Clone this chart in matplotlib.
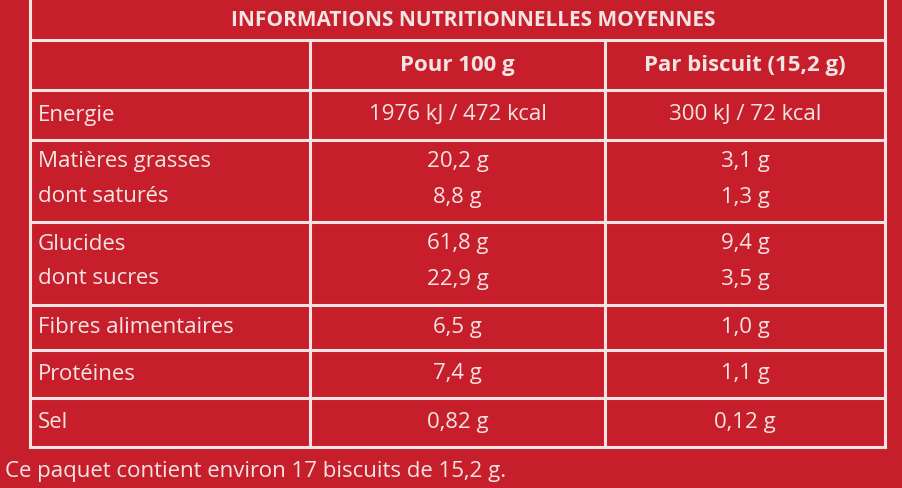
import matplotlib
matplotlib.use("Agg")
import matplotlib.pyplot as plt

title = "INFORMATIONS NUTRITIONNELLES MOYENNES"
col_headers = ["Pour 100 g", "Par biscuit (15,2 g)"]
row_labels = [["Energie"], ["Matières grasses", "dont saturés"], ["Glucides", "dont sucres"],
              ["Fibres alimentaires"], ["Protéines"], ["Sel"]]
per100 = [["1976 kJ / 472 kcal"], ["20,2 g", "8,8 g"], ["61,8 g", "22,9 g"], ["6,5 g"], ["7,4 g"], ["0,82 g"]]
perbiscuit = [["300 kJ / 72 kcal"], ["3,1 g", "1,3 g"], ["9,4 g", "3,5 g"], ["1,0 g"], ["1,1 g"], ["0,12 g"]]
footer = "Ce paquet contient environ 17 biscuits de 15,2 g."

bg = "#c61f2b"
fg = "#f3e4e4"
W, H = 902, 488
fig = plt.figure(figsize=(W/100, H/100), dpi=100, facecolor=bg)
ax = fig.add_axes([0, 0, 1, 1])
ax.set_xlim(0, W); ax.set_ylim(H, 0); ax.axis("off"); ax.set_facecolor(bg)

cols = [30, 310, 605, 885]
rows = [0, 40, 90, 140, 222, 305, 350, 398, 447]
lw = 2.2
for y in rows[1:]:
    ax.plot([cols[0], cols[-1]], [y, y], color=fg, lw=lw)
for x in [cols[0], cols[-1]]:
    ax.plot([x, x], [rows[0], rows[-1]], color=fg, lw=lw)
for x in cols[1:3]:
    ax.plot([x, x], [rows[1], rows[-1]], color=fg, lw=lw)

fs = 16
ax.text(473, 20, title, color=fg, fontsize=15, fontweight="bold", ha="center", va="center", family="Open Sans")
for i, h in enumerate(col_headers):
    ax.text((cols[i+1]+cols[i+2])/2, 66, h, color=fg, fontsize=fs, fontweight="bold",
            ha="center", va="center", family="Open Sans")
for r in range(len(row_labels)):
    top, bot = rows[r+2], rows[r+3]
    n = len(row_labels[r])
    for k in range(n):
        y = top + 22 + k*35 if n > 1 else (top+bot)/2
        ax.text(38, y, row_labels[r][k], color=fg, fontsize=fs, ha="left", va="center", family="Open Sans")
        ax.text((cols[1]+cols[2])/2, y, per100[r][k], color=fg, fontsize=fs, ha="center", va="center", family="Open Sans")
        ax.text((cols[2]+cols[3])/2, y, perbiscuit[r][k], color=fg, fontsize=fs, ha="center", va="center", family="Open Sans")
ax.text(5, 472, footer, color=fg, fontsize=fs, ha="left", va="center", family="Open Sans")
fig.savefig("out.png", dpi=100, facecolor=bg)
